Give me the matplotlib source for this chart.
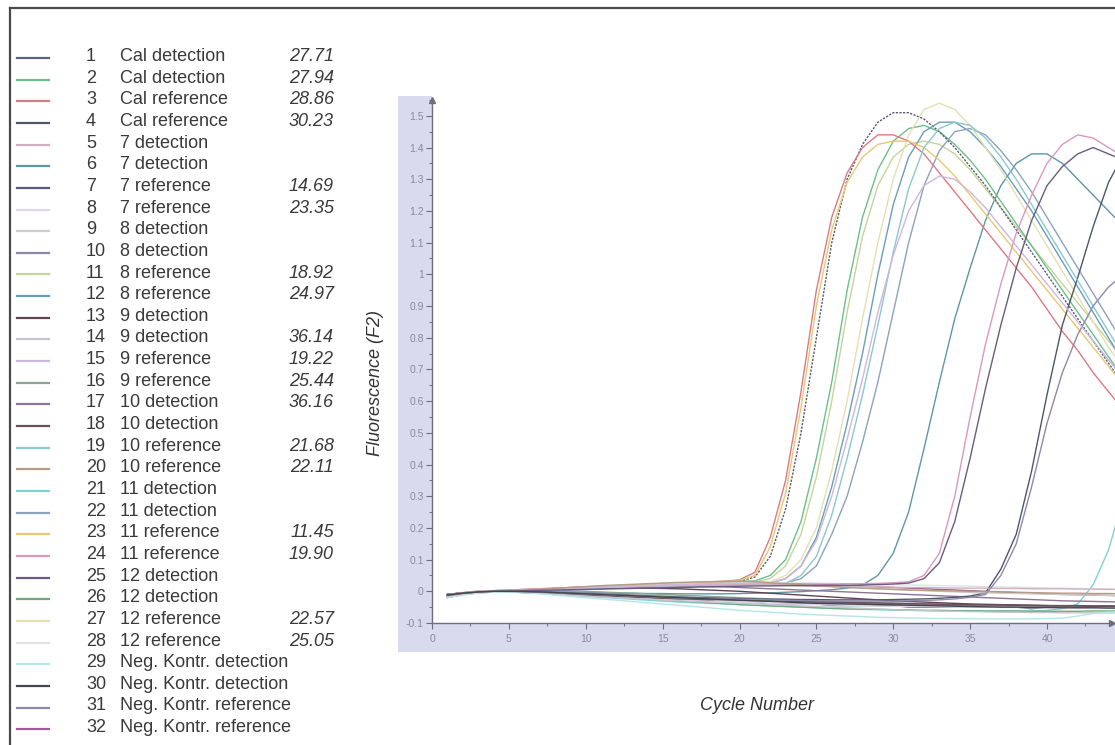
import matplotlib
matplotlib.use("Agg")
import matplotlib.pyplot as plt
from matplotlib.patches import Rectangle
from matplotlib.lines import Line2D
from matplotlib.ticker import MultipleLocator, FuncFormatter

# ---------------- data ----------------
cycles = list(range(1, 46))

sample_numbers = list(range(1, 33))
sample_names = ["Cal detection", "Cal detection", "Cal reference", "Cal reference",
                "7 detection", "7 detection", "7 reference", "7 reference",
                "8 detection", "8 detection", "8 reference", "8 reference",
                "9 detection", "9 detection", "9 reference", "9 reference",
                "10 detection", "10 detection", "10 reference", "10 reference",
                "11 detection", "11 detection", "11 reference", "11 reference",
                "12 detection", "12 detection", "12 reference", "12 reference",
                "Neg. Kontr. detection", "Neg. Kontr. detection",
                "Neg. Kontr. reference", "Neg. Kontr. reference"]
ct_values = ["27.71", "27.94", "28.86", "30.23", "", "", "14.69", "23.35",
             "", "", "18.92", "24.97", "", "36.14", "19.22", "25.44",
             "36.16", "", "21.68", "22.11", "", "", "11.45", "19.90",
             "", "", "22.57", "25.05", "", "", "", ""]
sample_colors = ["#5c6484", "#6cbf8a", "#dc7a84", "#4e5668", "#d0b0c0", "#5f96a6",
                 "#585a78", "#e0d8ea", "#cccccc", "#9088aa", "#c4d49a", "#6a9fb8",
                 "#5e4456", "#c4c4cc", "#cdb8dc", "#8ca494", "#8c7496", "#6c5058",
                 "#8cc8cc", "#b49c84", "#80d0d4", "#8fa2bc", "#e8c870", "#dc98bc",
                 "#6a5c80", "#70aa7c", "#e4e0b4", "#e2e2e2", "#b4e6e8", "#44484c",
                 "#8a8aa4", "#a85a94"]

s1 = [-0.01, -0.005, 0, 0, 0, 0, -0.005, -0.01, -0.01, -0.015, -0.015, -0.02, -0.02, -0.025, -0.025,
      -0.03, -0.03, -0.03, -0.035, -0.035, -0.035, -0.04, -0.04, -0.04, -0.04, -0.045, -0.045, -0.045,
      -0.045, -0.045, -0.05, -0.05, -0.05, -0.05, -0.05, -0.05, -0.05, -0.05, -0.055, -0.05, -0.05,
      -0.05, -0.05, -0.05, -0.05]
s2 = [-0.012, -0.006, -0.002, 0, 0.002, 0.004, 0.006, 0.008, 0.01, 0.012, 0.014, 0.016, 0.018, 0.02,
      0.022, 0.024, 0.026, 0.028, 0.03, 0.031, 0.033,
      0.05, 0.10, 0.22, 0.42, 0.66, 0.95, 1.18, 1.33, 1.42, 1.46, 1.47, 1.45, 1.41, 1.36, 1.30, 1.23,
      1.16, 1.09, 1.02, 0.95, 0.88, 0.81, 0.74, 0.67]
s3 = [-0.01, -0.004, 0, 0.002, 0.004, 0.006, 0.008, 0.01, 0.012, 0.014, 0.016, 0.018, 0.02, 0.022,
      0.024, 0.026, 0.028, 0.03, 0.032, 0.036,
      0.06, 0.17, 0.35, 0.63, 0.95, 1.18, 1.32, 1.40, 1.44, 1.44, 1.42, 1.38, 1.32, 1.26, 1.20, 1.14,
      1.08, 1.02, 0.96, 0.89, 0.82, 0.76, 0.69, 0.63, 0.57]
s4 = [-0.01, -0.005, -0.002, 0, 0, 0, -0.002, -0.004, -0.006, -0.008, -0.01, -0.012, -0.014, -0.016,
      -0.018, -0.019, -0.02, -0.021, -0.022, -0.023, -0.024, -0.025, -0.025, -0.026, -0.026, -0.027,
      -0.027, -0.027, -0.027, -0.026, -0.025, -0.024, -0.022, -0.019, -0.015, -0.005,
      0.07, 0.18, 0.38, 0.62, 0.84, 0.99, 1.15, 1.29, 1.38]
s5 = [-0.012, -0.005, 0, 0.002, 0.003, 0.005, 0.006, 0.008, 0.01, 0.012, 0.013, 0.015, 0.015, 0.016,
      0.017, 0.018, 0.018, 0.019, 0.02, 0.02, 0.02, 0.02, 0.018, 0.018, 0.017, 0.016, 0.015, 0.015,
      0.014, 0.013, 0.012, 0.012, 0.011, 0.01, 0.01, 0.01, 0.009, 0.009, 0.008, 0.008, 0.008, 0.007,
      0.007, 0.006, 0.006]
s6 = [-0.012, -0.006, -0.002, 0, 0, 0, -0.001, -0.002, -0.003, -0.004, -0.005, -0.006, -0.006, -0.007,
      -0.007, -0.008, -0.008, -0.008, -0.008, -0.007, -0.006, -0.005, -0.003, -0.001, 0.002, 0.005,
      0.01, 0.02,
      0.05, 0.12, 0.25, 0.45, 0.66, 0.86, 1.02, 1.17, 1.28, 1.35, 1.38, 1.38, 1.35, 1.30, 1.25, 1.20,
      1.15]
s7 = [-0.01, -0.005, -0.001, 0.001, 0.003, 0.005, 0.007, 0.009, 0.011, 0.013, 0.015, 0.017, 0.019,
      0.021, 0.023, 0.025, 0.027, 0.028, 0.03, 0.032,
      0.045, 0.11, 0.26, 0.50, 0.80, 1.10, 1.30, 1.41, 1.48, 1.51, 1.51, 1.49, 1.45, 1.40, 1.34, 1.28,
      1.21, 1.14, 1.07, 1.00, 0.93, 0.86, 0.79, 0.72, 0.65]
s8 = [-0.015, -0.008, -0.003, 0, 0, -0.002, -0.005, -0.008, -0.01, -0.012, -0.015, -0.018, -0.02,
      -0.022, -0.025, -0.027, -0.03, -0.031, -0.033, -0.035, -0.036, -0.038, -0.04, -0.041, -0.042,
      -0.043, -0.044, -0.045, -0.046, -0.047, -0.048, -0.048, -0.049, -0.05, -0.05, -0.05, -0.051,
      -0.051, -0.052, -0.052, -0.052, -0.053, -0.053, -0.053, -0.054]
s9 = [-0.02, -0.01, -0.004, 0, 0.002, 0.004, 0.006, 0.008, 0.01, 0.012, 0.014, 0.016, 0.018, 0.02,
      0.021, 0.022, 0.023, 0.024, 0.025, 0.025, 0.024, 0.022, 0.02, 0.018, 0.016, 0.014, 0.012, 0.01,
      0.008, 0.006, 0.004, 0.002, 0, -0.002, -0.004, -0.005, -0.006, -0.007, -0.008, -0.009, -0.01,
      -0.011, -0.012, -0.013, -0.014]
s10 = [-0.012, -0.006, -0.002, 0, 0, -0.001, -0.003, -0.005, -0.007, -0.009, -0.011, -0.013, -0.015,
       -0.017, -0.019, -0.021, -0.022, -0.023, -0.024, -0.025, -0.026, -0.027, -0.028, -0.029, -0.03,
       -0.03, -0.031, -0.031, -0.031, -0.031, -0.03, -0.029, -0.027, -0.024, -0.019, -0.01,
       0.05, 0.15, 0.33, 0.53, 0.69, 0.81, 0.90, 0.96, 1.00]
s11 = [-0.014, -0.007, -0.003, 0, 0.002, 0.003, 0.005, 0.007, 0.009, 0.011, 0.013, 0.015, 0.017, 0.019,
       0.021, 0.023, 0.025, 0.026, 0.027, 0.028, 0.03,
       0.04, 0.08, 0.18, 0.36, 0.60, 0.88, 1.12, 1.28, 1.37, 1.41, 1.42, 1.41, 1.38, 1.33, 1.27, 1.21,
       1.15, 1.09, 1.03, 0.97, 0.91, 0.85, 0.79, 0.73]
s12 = [-0.012, -0.006, -0.002, 0, 0.001, 0.002, 0.004, 0.006, 0.008, 0.01, 0.012, 0.014, 0.016, 0.017,
       0.018, 0.019, 0.02, 0.021, 0.022, 0.023, 0.024, 0.025,
       0.04, 0.08, 0.17, 0.33, 0.53, 0.75, 1.00, 1.22, 1.37, 1.45, 1.48, 1.48, 1.45, 1.40, 1.34, 1.27,
       1.20, 1.12, 1.04, 0.96, 0.88, 0.80, 0.72]
s13 = [-0.01, -0.006, -0.002, 0, 0, 0.002, 0.004, 0.005, 0.006, 0.008, 0.009, 0.01, 0.01, 0.01, 0.009,
       0.008, 0.006, 0.004, 0.002, 0, -0.003, -0.006, -0.009, -0.012, -0.015, -0.018, -0.021, -0.024,
       -0.027, -0.03, -0.032, -0.034, -0.036, -0.038, -0.04, -0.041, -0.042, -0.043, -0.044, -0.045,
       -0.046, -0.046, -0.047, -0.047, -0.048]
s14 = [-0.015, -0.008, -0.004, -0.002, -0.002, -0.004, -0.006, -0.009, -0.012, -0.015, -0.018, -0.02,
       -0.023, -0.025, -0.028, -0.03, -0.032, -0.034, -0.036, -0.038, -0.04, -0.042, -0.044, -0.046,
       -0.048, -0.05, -0.052, -0.054, -0.056, -0.058, -0.06, -0.061, -0.062, -0.063, -0.064, -0.065,
       -0.066, -0.066, -0.067, -0.067, -0.068, -0.068, -0.068, -0.068, -0.068]
s15 = [-0.013, -0.006, -0.002, 0, 0.002, 0.003, 0.005, 0.007, 0.009, 0.011, 0.013, 0.015, 0.017, 0.019,
       0.02, 0.021, 0.022, 0.023, 0.024, 0.025, 0.026, 0.027,
       0.04, 0.08, 0.16, 0.30, 0.48, 0.67, 0.88, 1.06, 1.20, 1.28, 1.31, 1.30, 1.26, 1.21, 1.15, 1.09,
       1.03, 0.97, 0.91, 0.85, 0.79, 0.73, 0.67]
s16 = [-0.012, -0.006, -0.002, 0, 0.001, 0.002, 0.002, 0.002, 0.001, 0, -0.002, -0.004, -0.006, -0.008,
       -0.01, -0.012, -0.014, -0.016, -0.018, -0.02, -0.022, -0.024, -0.026, -0.028, -0.03, -0.032,
       -0.034, -0.035, -0.036, -0.037, -0.038, -0.039, -0.04, -0.041, -0.042, -0.043, -0.044, -0.045,
       -0.046, -0.047, -0.048, -0.049, -0.05, -0.05, -0.05]
s17 = [-0.02, -0.01, -0.005, -0.002, 0, 0.001, 0.002, 0.004, 0.006, 0.008, 0.01, 0.012, 0.013, 0.014,
       0.015, 0.016, 0.016, 0.015, 0.014, 0.012, 0.01, 0.008, 0.006, 0.004, 0.002, 0, -0.002, -0.004,
       -0.006, -0.008, -0.01, -0.012, -0.014, -0.016, -0.018, -0.02, -0.022, -0.024, -0.026, -0.028,
       -0.03, -0.031, -0.032, -0.033, -0.034]
s18 = [-0.01, -0.005, -0.002, 0, -0.002, -0.004, -0.006, -0.008, -0.01, -0.012, -0.014, -0.016,
       -0.018, -0.02, -0.022, -0.024, -0.025, -0.026, -0.027, -0.028, -0.029, -0.03, -0.031, -0.032,
       -0.033, -0.034, -0.035, -0.036, -0.037, -0.038, -0.039, -0.04, -0.041, -0.042, -0.042, -0.043,
       -0.043, -0.044, -0.044, -0.045, -0.045, -0.045, -0.046, -0.046, -0.046]
s19 = [-0.013, -0.006, -0.002, 0, 0.001, 0.002, 0.003, 0.004, 0.006, 0.008, 0.01, 0.012, 0.014, 0.015,
       0.016, 0.017, 0.018, 0.019, 0.02, 0.021, 0.022, 0.023, 0.025,
       0.05, 0.11, 0.24, 0.42, 0.62, 0.84, 1.07, 1.27, 1.40, 1.46, 1.48, 1.47, 1.43, 1.37, 1.30, 1.22,
       1.14, 1.06, 0.98, 0.90, 0.82, 0.74]
s20 = [-0.014, -0.007, -0.002, 0, 0.002, 0.004, 0.006, 0.009, 0.012, 0.015, 0.018, 0.02, 0.022, 0.024,
       0.026, 0.028, 0.029, 0.03, 0.031, 0.032, 0.03, 0.027, 0.024, 0.021, 0.018, 0.015, 0.012, 0.01,
       0.008, 0.006, 0.004, 0.003, 0.002, 0.001, 0, -0.001, -0.002, -0.003, -0.004, -0.005, -0.006,
       -0.006, -0.007, -0.007, -0.008]
s21 = [-0.014, -0.008, -0.004, -0.002, -0.002, -0.004, -0.007, -0.01, -0.013, -0.016, -0.019, -0.022,
       -0.025, -0.028, -0.031, -0.034, -0.036, -0.038, -0.04, -0.042, -0.044, -0.046, -0.048, -0.05,
       -0.052, -0.054, -0.056, -0.057, -0.058, -0.059, -0.06, -0.061, -0.062, -0.062, -0.063, -0.063,
       -0.063, -0.063, -0.062, -0.06, -0.055, -0.04,
       0.02, 0.13, 0.30]
s22 = [-0.011, -0.005, -0.001, 0, 0.001, 0.002, 0.003, 0.004, 0.005, 0.006, 0.008, 0.01, 0.012, 0.014,
       0.016, 0.018, 0.019, 0.02, 0.021, 0.022, 0.023, 0.024, 0.026,
       0.04, 0.08, 0.18, 0.30, 0.47, 0.66, 0.88, 1.10, 1.28, 1.39, 1.45, 1.46, 1.44, 1.39, 1.33, 1.26,
       1.18, 1.10, 1.02, 0.94, 0.86, 0.78]
s23 = [-0.012, -0.005, 0, 0.002, 0.003, 0.005, 0.007, 0.009, 0.011, 0.013, 0.015, 0.017, 0.019, 0.021,
       0.023, 0.025, 0.027, 0.029, 0.031, 0.034,
       0.05, 0.14, 0.31, 0.58, 0.90, 1.14, 1.29, 1.37, 1.41, 1.42, 1.42, 1.40, 1.36, 1.31, 1.25, 1.19,
       1.13, 1.07, 1.01, 0.95, 0.89, 0.83, 0.77, 0.71, 0.65]
s24 = [-0.01, -0.005, 0, 0.002, 0.004, 0.006, 0.008, 0.01, 0.012, 0.014, 0.015, 0.016, 0.017, 0.018,
       0.019, 0.02, 0.021, 0.022, 0.022, 0.023, 0.023, 0.023, 0.023, 0.023, 0.023, 0.023, 0.024, 0.024,
       0.025, 0.027, 0.03,
       0.05, 0.12, 0.30, 0.55, 0.78, 0.97, 1.13, 1.25, 1.35, 1.41, 1.44, 1.43, 1.40, 1.37]
s25 = [-0.012, -0.006, -0.002, 0, 0.001, 0.002, 0.003, 0.004, 0.005, 0.006, 0.007, 0.008, 0.009, 0.01,
       0.011, 0.012, 0.013, 0.014, 0.015, 0.016, 0.017, 0.017, 0.018, 0.018, 0.018, 0.019, 0.019, 0.02,
       0.021, 0.023, 0.026,
       0.04, 0.09, 0.22, 0.42, 0.64, 0.84, 1.02, 1.17, 1.28, 1.34, 1.38, 1.40, 1.38, 1.36]
s26 = [-0.016, -0.009, -0.004, -0.001, 0, -0.001, -0.003, -0.006, -0.009, -0.012, -0.015, -0.018,
       -0.021, -0.024, -0.027, -0.03, -0.033, -0.036, -0.039, -0.042, -0.044, -0.046, -0.048, -0.05,
       -0.052, -0.054, -0.055, -0.056, -0.057, -0.058, -0.059, -0.06, -0.06, -0.061, -0.061, -0.062,
       -0.062, -0.062, -0.063, -0.063, -0.063, -0.063, -0.062, -0.062, -0.062]
s27 = [-0.015, -0.008, -0.003, 0, 0.002, 0.004, 0.006, 0.008, 0.01, 0.012, 0.014, 0.016, 0.018, 0.02,
       0.022, 0.024, 0.025, 0.026, 0.027, 0.028, 0.029, 0.03,
       0.05, 0.10, 0.20, 0.38, 0.60, 0.86, 1.10, 1.30, 1.44, 1.52, 1.54, 1.52, 1.47, 1.40, 1.33, 1.25,
       1.17, 1.09, 1.01, 0.93, 0.85, 0.77, 0.70]
s28 = [-0.018, -0.01, -0.005, -0.002, 0, 0.002, 0.004, 0.006, 0.008, 0.01, 0.012, 0.014, 0.016, 0.018,
       0.02, 0.022, 0.024, 0.025, 0.026, 0.027, 0.028, 0.028, 0.028, 0.027, 0.026, 0.025, 0.024, 0.023,
       0.022, 0.021, 0.02, 0.019, 0.018, 0.017, 0.016, 0.015, 0.014, 0.013, 0.012, 0.011, 0.01, 0.009,
       0.008, 0.007, 0.006]
s29 = [-0.02, -0.012, -0.006, -0.003, -0.002, -0.004, -0.008, -0.012, -0.016, -0.02, -0.024, -0.028,
       -0.032, -0.036, -0.04, -0.044, -0.048, -0.052, -0.056, -0.06, -0.063, -0.066, -0.069, -0.072,
       -0.074, -0.076, -0.078, -0.08, -0.082, -0.083, -0.084, -0.085, -0.086, -0.086, -0.087, -0.087,
       -0.087, -0.087, -0.087, -0.086, -0.085, -0.078, -0.07, -0.066, -0.064]
s30 = [-0.012, -0.006, -0.002, 0, 0, -0.001, -0.002, -0.004, -0.006, -0.008, -0.01, -0.012, -0.014,
       -0.016, -0.018, -0.02, -0.022, -0.024, -0.026, -0.028, -0.03, -0.032, -0.034, -0.036, -0.038,
       -0.039, -0.04, -0.041, -0.042, -0.043, -0.044, -0.045, -0.046, -0.047, -0.048, -0.049, -0.05,
       -0.05, -0.051, -0.051, -0.052, -0.052, -0.052, -0.053, -0.053]
s31 = [-0.014, -0.007, -0.003, 0, 0.001, 0.001, 0, -0.001, -0.003, -0.005, -0.007, -0.009, -0.011,
       -0.013, -0.015, -0.017, -0.019, -0.021, -0.023, -0.025, -0.027, -0.029, -0.031, -0.033, -0.035,
       -0.037, -0.038, -0.039, -0.04, -0.041, -0.042, -0.043, -0.044, -0.044, -0.045, -0.045, -0.046,
       -0.046, -0.047, -0.047, -0.048, -0.048, -0.048, -0.049, -0.049]
s32 = [-0.012, -0.006, -0.002, 0, 0.002, 0.004, 0.006, 0.008, 0.01, 0.012, 0.014, 0.016, 0.018, 0.02,
       0.022, 0.024, 0.025, 0.026, 0.027, 0.028, 0.028, 0.027, 0.026, 0.024, 0.022, 0.02, 0.018, 0.016,
       0.014, 0.012, 0.01, 0.008, 0.006, 0.004, 0.002, 0.0, -0.002, -0.004, -0.006, -0.008, -0.01,
       -0.011, -0.012, -0.013, -0.014]

series_values = [s1, s2, s3, s4, s5, s6, s7, s8, s9, s10, s11, s12, s13, s14, s15, s16,
                 s17, s18, s19, s20, s21, s22, s23, s24, s25, s26, s27, s28, s29, s30, s31, s32]

y_tick_values = [-0.1, 0, 0.1, 0.2, 0.3, 0.4, 0.5, 0.6, 0.7, 0.8, 0.9, 1, 1.1, 1.2, 1.3, 1.4, 1.5]
x_tick_values = [0, 5, 10, 15, 20, 25, 30, 35, 40]

# ---------------- figure ----------------
W, H = 1115, 745
fig = plt.figure(figsize=(W / 100, H / 100), dpi=100)
fig.patch.set_facecolor("white")
plt.rcParams["font.family"] = ["Liberation Sans", "DejaVu Sans"]


def fx(px):
    return px / W


def fy(py):
    return 1 - py / H


# outer frame (left and top visible)
fig.add_artist(Line2D([fx(10), fx(10)], [fy(8), fy(745)], color="#4a4a4a", lw=1.6))
fig.add_artist(Line2D([fx(10), fx(1115)], [fy(8), fy(8)], color="#4a4a4a", lw=1.6))

# lavender strips behind tick labels
strip_col = "#d8daee"
fig.add_artist(Rectangle((fx(398), fy(652)), fx(432) - fx(398), fy(96) - fy(652),
                         transform=fig.transFigure, color=strip_col, zorder=-5, lw=0))
fig.add_artist(Rectangle((fx(398), fy(652)), fx(1115) - fx(398), fy(623) - fy(652),
                         transform=fig.transFigure, color=strip_col, zorder=-5, lw=0))

# axes
ax = fig.add_axes([fx(432), fy(623), fx(1115) - fx(432), fy(100) - fy(623)])
ax.set_facecolor("white")
ax.set_xlim(0, (1115 - 432) / 15.375)
ax.set_ylim(-0.1, 1.55)

for i, vals in enumerate(series_values):
    ls = (0, (1.6, 1.0)) if sample_numbers[i] == 7 else "-"
    ax.plot(cycles, vals, color=sample_colors[i], lw=1.0, ls=ls, zorder=2 + (i % 5) * 0.1)

for sp in ["top", "right"]:
    ax.spines[sp].set_visible(False)
for sp in ["left", "bottom"]:
    ax.spines[sp].set_color("#6e6e80")
    ax.spines[sp].set_linewidth(1.0)

ax.set_yticks(y_tick_values)
ax.yaxis.set_major_formatter(FuncFormatter(lambda v, p: ("%g" % round(v, 2))))
ax.set_xticks(x_tick_values)
ax.yaxis.set_minor_locator(MultipleLocator(0.05))
ax.xaxis.set_minor_locator(MultipleLocator(2.5))
ax.tick_params(axis="both", which="major", direction="out", length=4, width=0.8,
               color="#6e6e80", labelsize=7.5, labelcolor="#8a8a9c", pad=2)
ax.tick_params(axis="x", which="major", pad=4)
ax.tick_params(axis="both", which="minor", direction="out", length=2.5, width=0.7,
               color="#6e6e80")

# axis arrows
ax.plot([0], [1], marker="^", color="#6e6e80", ms=5, transform=ax.transAxes, clip_on=False)
ax.plot([0.995], [0], marker=">", color="#6e6e80", ms=5, transform=ax.transAxes, clip_on=False)

# axis titles
fig.text(fx(375), fy(383), "Fluorescence (F2)", rotation=90, ha="center", va="center",
         fontsize=13, style="italic", color="#333333")
fig.text(fx(757), fy(705), "Cycle Number", ha="center", va="center",
         fontsize=13, style="italic", color="#333333")

# legend list
row_step = 21.65
for i in range(32):
    base = 61 + row_step * i
    ly = fy(base - 3)
    fig.add_artist(Line2D([fx(17), fx(49)], [ly, ly], color=sample_colors[i], lw=1.6))
    fig.text(fx(86), fy(base), str(sample_numbers[i]), ha="left", va="baseline",
             fontsize=13, color="#3a3a3a")
    fig.text(fx(120), fy(base), sample_names[i], ha="left", va="baseline",
             fontsize=13, color="#3a3a3a")
    if ct_values[i]:
        fig.text(fx(334), fy(base), ct_values[i], ha="right", va="baseline",
                 fontsize=13, style="italic", color="#3a3a3a")

fig.savefig("out.png", dpi=100)
